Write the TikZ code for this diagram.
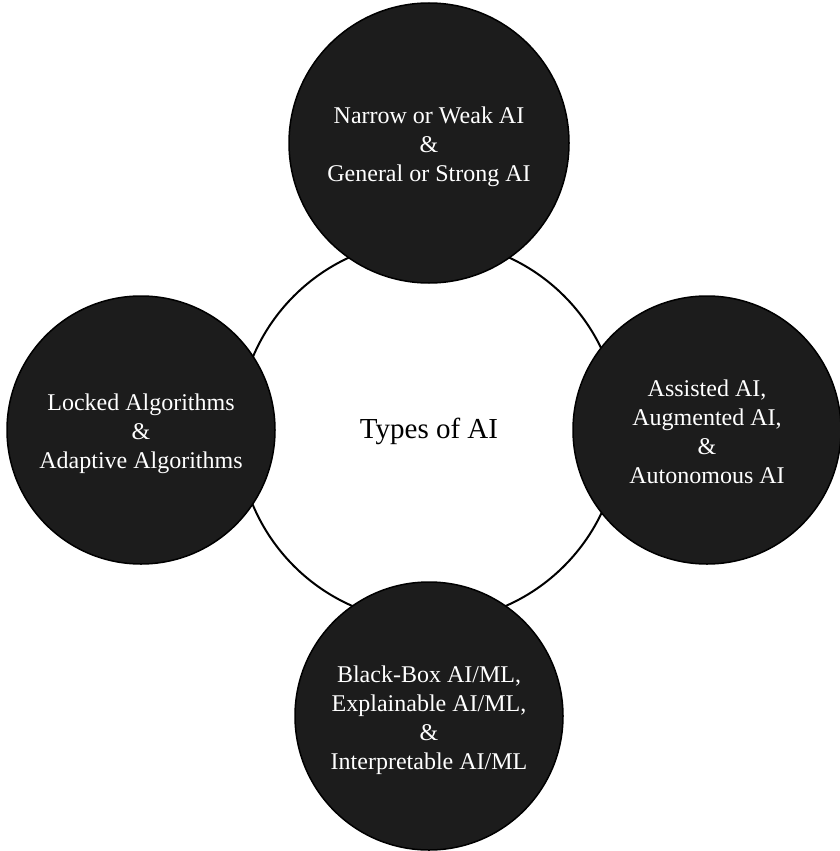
\documentclass[tikz,border=0pt]{standalone}
\usepackage{fontspec}
\setmainfont{Liberation Serif}
\definecolor{discfill}{HTML}{1C1C1C}
\begin{document}
\begin{tikzpicture}[x=1pt,y=-1pt,
  hub/.style={circle, draw=black, line width=2pt, fill=white, minimum size=382pt,
    inner sep=0pt, font=\fontsize{29}{35}\selectfont},
  disc/.style={circle, draw=black, line width=1.5pt, fill=discfill,
    inner sep=0pt, minimum size=268pt},
  disctext/.style={text=white, align=center, inner sep=0pt,
    font=\fontsize{24}{29}\selectfont}]
\useasboundingbox (0,0) rectangle (840,851);
% central hub
\node[hub] (hub) at (429,431) {Types of AI};
% surrounding category discs
\node[disc, minimum size=280pt] (top) at (429,143) {};
\node[disc] (left) at (141,430) {};
\node[disc] (right) at (707,430) {};
\node[disc] (bottom) at (429,716) {};
% disc captions, set a little below each disc centre
\node[disctext] (toptext) at ([yshift=-4pt]top.center)
  {Narrow or Weak AI\\\&\\General or Strong AI};
\node[disctext] (lefttext) at ([yshift=-4pt]left.center)
  {Locked Algorithms\\\&\\Adaptive Algorithms};
\node[disctext] (righttext) at ([yshift=-2pt]right.center)
  {Assisted AI,\\Augmented AI,\\\&\\Autonomous AI};
\node[disctext] (bottomtext) at ([yshift=-4pt]bottom.center)
  {Black-Box AI/ML,\\Explainable AI/ML,\\\&\\Interpretable AI/ML};
\end{tikzpicture}
\end{document}
